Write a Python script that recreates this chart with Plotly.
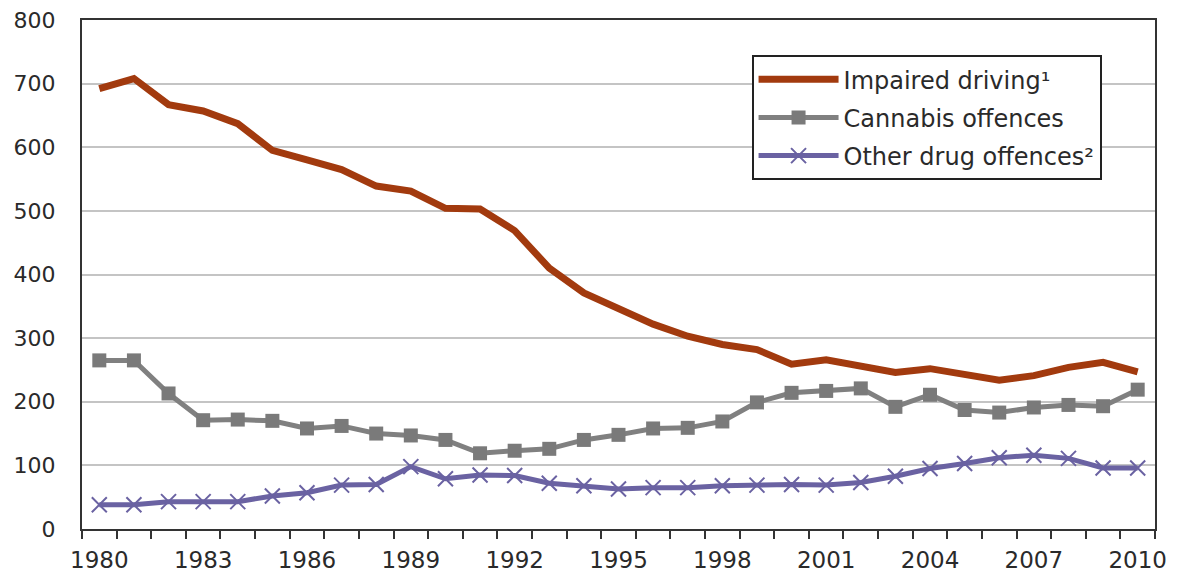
import plotly.graph_objects as go

years = list(range(1980, 2011))
impaired = [692, 708, 667, 657, 637, 595, 580, 565, 539, 531, 504, 503, 469, 410, 371, 346, 322, 303, 290, 282, 259, 266, 255, 246, 252, 243, 234, 241, 254, 262, 247]
cannabis = [265, 265, 213, 171, 172, 170, 158, 162, 150, 147, 140, 119, 123, 126, 140, 148, 158, 159, 169, 199, 214, 217, 221, 192, 211, 187, 183, 191, 195, 193, 219]
other = [38, 38, 43, 43, 43, 52, 57, 69, 70, 98, 79, 85, 84, 72, 68, 63, 65, 65, 68, 69, 70, 69, 73, 83, 95, 103, 112, 116, 111, 96, 96]
series_names = ["Impaired driving\u00b9", "Cannabis offences", "Other drug offences\u00b2"]
x_labels = [str(y) for y in range(1980, 2011, 3)]

fig = go.Figure()
fig.add_trace(go.Scatter(x=years, y=impaired, name=series_names[0], mode="lines",
                         line=dict(color="#A23A0E", width=7), legendgroup="a"))
fig.add_trace(go.Scatter(x=years, y=cannabis, name=series_names[1], mode="lines+markers",
                         line=dict(color="#808080", width=5),
                         marker=dict(symbol="square", size=14, color="#7A7A7A"), legendgroup="b"))
fig.add_trace(go.Scatter(x=years, y=other, name=series_names[2], mode="lines+markers",
                         line=dict(color="#6A62A2", width=5),
                         marker=dict(symbol="x-thin", size=15, line=dict(width=2, color="#6A62A2"), color="#6A62A2"),
                         legendgroup="c"))

font_family = "DejaVu Sans, Verdana, sans-serif"
y_font = dict(family=font_family, size=22, color="#2A2A2A")
x_font = dict(family=font_family, size=23, color="#2A2A2A")

# The page body has an 8px default margin, so the figure is sized to fit the window.
fig.update_layout(
    width=1169, height=567,
    margin=dict(l=74, r=22, t=12, b=46),
    paper_bgcolor="white", plot_bgcolor="white",
    font=dict(family=font_family, color="#2A2A2A"),
    showlegend=True,
    legend=dict(x=0.624, y=0.931, xanchor="left", yanchor="top",
                bordercolor="#222222", borderwidth=2, bgcolor="white",
                font=dict(family=font_family, size=24, color="#2A2A2A"),
                tracegroupgap=4, itemwidth=80),
    xaxis=dict(range=[1979.5, 2010.5], tickmode="array", tickvals=[int(v) for v in x_labels],
               ticktext=x_labels, ticks="", showgrid=False, zeroline=False, automargin=False,
               showline=True, linecolor="#333333", linewidth=2, mirror=True,
               ticklabelstandoff=9, ticklabeloverflow="allow", tickfont=x_font,
               minor=dict(tickvals=[1979.5 + k for k in range(32)], ticks="outside",
                          ticklen=8, tickcolor="#333333", tickwidth=1.5, showgrid=False)),
    yaxis=dict(range=[0, 800], dtick=100, showgrid=True, gridcolor="#C4C4C4", gridwidth=1.5,
               zeroline=False, showline=True, linecolor="#333333", linewidth=2, mirror=True,
               automargin=False, ticks="", ticklabelstandoff=20, ticklabeloverflow="allow",
               tickfont=y_font),
)

fig.write_html("out.html")
